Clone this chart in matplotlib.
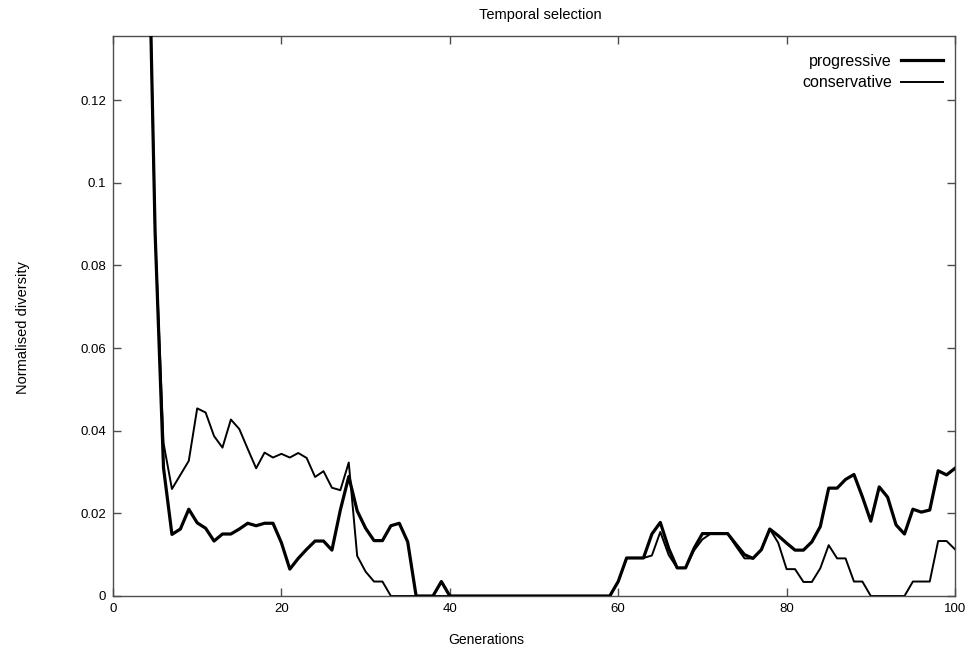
import matplotlib
matplotlib.use('Agg')
import matplotlib.pyplot as plt
from matplotlib.ticker import FuncFormatter

# Data (generation -> normalised diversity)
generations = list(range(4, 101))

progressive = [
    0.185, 0.088, 0.031, 0.0149, 0.0162, 0.0210, 0.0177, 0.0164, 0.0133, 0.0150,   # 4-13
    0.0150, 0.0162, 0.0176, 0.0170, 0.0176, 0.0176, 0.0129, 0.0065, 0.0091, 0.0113,  # 14-23
    0.0133, 0.0133, 0.0111, 0.0208, 0.0289, 0.0206, 0.0164, 0.0134, 0.0134, 0.0170,  # 24-33
    0.0176, 0.0131, 0.0, 0.0, 0.0, 0.0035, 0.0, 0.0, 0.0, 0.0,                       # 34-43
    0.0, 0.0, 0.0, 0.0, 0.0, 0.0, 0.0, 0.0, 0.0, 0.0,                                # 44-53
    0.0, 0.0, 0.0, 0.0, 0.0, 0.0, 0.0035, 0.0092, 0.0092, 0.0092,                    # 54-63
    0.0150, 0.0178, 0.0115, 0.0068, 0.0068, 0.0115, 0.0151, 0.0151, 0.0151, 0.0151,  # 64-73
    0.0125, 0.0100, 0.0091, 0.0112, 0.0162, 0.0146, 0.0128, 0.0111, 0.0111, 0.0131,  # 74-83
    0.0168, 0.0261, 0.0261, 0.0282, 0.0294, 0.0240, 0.0181, 0.0264, 0.0239, 0.0172,  # 84-93
    0.0150, 0.0210, 0.0203, 0.0208, 0.0303, 0.0293, 0.0309,                          # 94-100
]

conservative = [
    0.185, 0.088, 0.037, 0.0259, 0.0293, 0.0327, 0.0454, 0.0444, 0.0387, 0.0359,     # 4-13
    0.0427, 0.0404, 0.0356, 0.0309, 0.0347, 0.0335, 0.0344, 0.0335, 0.0346, 0.0334,  # 14-23
    0.0288, 0.0302, 0.0262, 0.0256, 0.0323, 0.0097, 0.0059, 0.0035, 0.0035, 0.0,     # 24-33
    0.0, 0.0, 0.0, 0.0, 0.0, 0.0, 0.0, 0.0, 0.0, 0.0,                                # 34-43
    0.0, 0.0, 0.0, 0.0, 0.0, 0.0, 0.0, 0.0, 0.0, 0.0,                                # 44-53
    0.0, 0.0, 0.0, 0.0, 0.0, 0.0, 0.0035, 0.0092, 0.0092, 0.0092,                    # 54-63
    0.0098, 0.0155, 0.0099, 0.0068, 0.0068, 0.0110, 0.0137, 0.0151, 0.0151, 0.0151,  # 64-73
    0.0120, 0.0091, 0.0091, 0.0112, 0.0162, 0.0129, 0.0065, 0.0065, 0.0034, 0.0034,  # 74-83
    0.0067, 0.0123, 0.0091, 0.0091, 0.0035, 0.0035, 0.0, 0.0, 0.0, 0.0,              # 84-93
    0.0, 0.0035, 0.0035, 0.0035, 0.0133, 0.0133, 0.0113,                             # 94-100
]

x_ticks = [0, 20, 40, 60, 80, 100]
y_ticks = [0, 0.02, 0.04, 0.06, 0.08, 0.1, 0.12]

plt.rcParams['font.family'] = ['Liberation Sans', 'DejaVu Sans']

fig = plt.figure(figsize=(9.78, 6.55), dpi=100)
ax = fig.add_axes([113 / 978, 1 - 596 / 655, (955 - 113) / 978, (596 - 36) / 655])

ax.plot(generations, progressive, color='black', lw=2.3, label='progressive', zorder=3)
ax.plot(generations, conservative, color='black', lw=1.4, label='conservative', zorder=2)

ax.set_xlim(0, 100)
ax.set_ylim(0, 0.1355)
ax.set_xticks(x_ticks)
ax.set_yticks(y_ticks)
ax.yaxis.set_major_formatter(FuncFormatter(lambda v, p: '%g' % v))

# gnuplot look: ticks inside on all four sides, grey frame
for s in ax.spines.values():
    s.set_color('0.3')
    s.set_linewidth(1.0)
ax.tick_params(direction='in', length=6, width=1, color='0.3',
               top=True, right=True, labelsize=9.5, pad=5)

ax.set_title('Temporal selection', fontsize=10.5, pad=12, x=0.508)
ax.set_xlabel('Generations', fontsize=10, labelpad=13, x=0.443)
ax.set_ylabel('Normalised diversity', fontsize=10.5, labelpad=36, y=0.48)

ax.legend(loc='upper right', bbox_to_anchor=(0.9857, 0.968), markerfirst=False,
          frameon=False, fontsize=11.5, handlelength=2.6, handletextpad=0.6,
          borderaxespad=0, borderpad=0, labelspacing=0.4)

fig.savefig('out.png', dpi=100)
